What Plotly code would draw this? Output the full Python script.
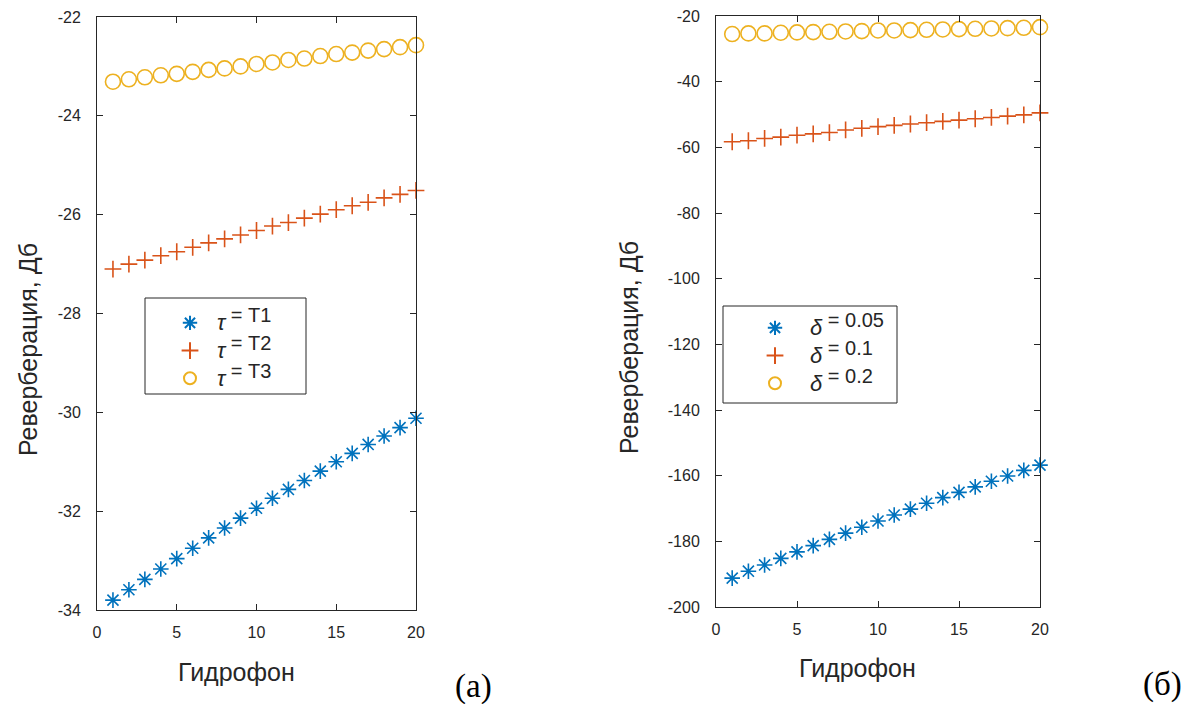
import plotly.graph_objects as go

hydro = list(range(1, 21))

# Panel (a): tau series
tau_T1 = [-33.80, -33.59, -33.38, -33.17, -32.96, -32.75, -32.54, -32.34, -32.14, -31.94,
          -31.74, -31.56, -31.38, -31.19, -31.00, -30.83, -30.65, -30.48, -30.31, -30.12]
tau_T2 = [-27.10, -27.00, -26.92, -26.83, -26.75, -26.66, -26.57, -26.49, -26.41, -26.32,
          -26.23, -26.16, -26.07, -25.99, -25.90, -25.82, -25.75, -25.66, -25.59, -25.51]
tau_T3 = [-23.31, -23.26, -23.22, -23.18, -23.15, -23.11, -23.07, -23.04, -23.00, -22.95,
          -22.92, -22.87, -22.84, -22.79, -22.75, -22.72, -22.68, -22.65, -22.61, -22.57]

# Panel (б): delta series
d_005 = [-191.2, -189.1, -187.2, -185.2, -183.2, -181.3, -179.4, -177.5, -175.7, -173.8,
         -172.0, -170.2, -168.4, -166.7, -165.1, -163.4, -161.7, -160.1, -158.4, -156.8]
d_01 = [-58.3, -58.0, -57.3, -56.9, -56.3, -55.9, -55.5, -54.7, -54.2, -53.7,
        -53.3, -52.9, -52.5, -52.1, -51.7, -51.3, -50.9, -50.5, -50.1, -49.5]
d_02 = [-25.5, -25.3, -25.3, -25.1, -25.0, -24.9, -24.8, -24.7, -24.6, -24.4,
        -24.4, -24.3, -24.2, -24.1, -24.0, -23.9, -23.8, -23.7, -23.6, -23.4]

x_ticks = [0, 5, 10, 15, 20]
x_ticklabels = ["0", "5", "10", "15", "20"]
ya_ticks = [-34, -32, -30, -28, -26, -24, -22]
ya_ticklabels = ["-34", "-32", "-30", "-28", "-26", "-24", "-22"]
yb_ticks = [-200, -180, -160, -140, -120, -100, -80, -60, -40, -20]
yb_ticklabels = ["-200", "-180", "-160", "-140", "-120", "-100", "-80", "-60", "-40", "-20"]

left_labels = ["T1", "T2", "T3"]
right_labels = ["0.05", "0.1", "0.2"]

SYM = "<span style='font-size:22px'><i>{}</i></span>"
SUP = "<sup><span style='font-size:20px'> = {}</span></sup>"
left_names = [SYM.format("τ") + SUP.format(t) for t in left_labels]
right_names = [SYM.format("δ") + SUP.format(t) for t in right_labels]

BLUE, ORANGE, YELLOW = "#0072BD", "#D95319", "#EDB120"
styles = [
    dict(symbol="asterisk-open", size=13, color=BLUE, line=dict(color=BLUE, width=1.6)),
    dict(symbol="cross-thin-open", size=12, color=ORANGE, line=dict(color=ORANGE, width=1.6)),
    dict(symbol="circle-open", size=15, color=YELLOW, line=dict(color=YELLOW, width=1.6)),
]

fig = go.Figure()
for ys, name, st in zip([tau_T1, tau_T2, tau_T3], left_names, styles):
    fig.add_trace(go.Scatter(x=hydro, y=ys, mode="markers", name=name, marker=st,
                             xaxis="x", yaxis="y", legend="legend", cliponaxis=False))
for ys, name, st in zip([d_005, d_01, d_02], right_names, styles):
    fig.add_trace(go.Scatter(x=hydro, y=ys, mode="markers", name=name, marker=st,
                             xaxis="x2", yaxis="y2", legend="legend2", cliponaxis=False))

W, H = 1197, 704
AX = "#262626"
FONT = "Liberation Sans, Arial, sans-serif"
tickfont = dict(family=FONT, size=16, color=AX)
common = dict(showline=True, linecolor=AX, linewidth=1, mirror="ticks", ticks="inside",
              ticklen=6, tickcolor=AX, tickwidth=1, showgrid=False, zeroline=False,
              tickfont=tickfont, automargin=False)

def px(x):
    return x / W

def py(y):
    return 1 - y / H

legend_common = dict(bgcolor="rgba(0,0,0,0)", borderwidth=0,
                     font=dict(family=FONT, size=19, color=AX),
                     itemsizing="constant", tracegroupgap=0,
                     xanchor="left", yanchor="top")

fig.update_layout(
    width=W, height=H, margin=dict(l=0, r=0, t=0, b=0, autoexpand=False),
    paper_bgcolor="white", plot_bgcolor="white",
    showlegend=True,
    xaxis=dict(domain=[px(97), px(416)], range=[0, 20], tickvals=x_ticks, ticktext=x_ticklabels,
               anchor="y", ticklabelstandoff=8, **common),
    yaxis=dict(domain=[py(610), py(17)], range=[-34, -22],
               tickvals=ya_ticks, ticktext=ya_ticklabels, anchor="x",
               ticklabelstandoff=12, **common),
    xaxis2=dict(domain=[px(716), px(1040)], range=[0, 20], tickvals=x_ticks, ticktext=x_ticklabels,
                anchor="y2", ticklabelstandoff=8, **common),
    yaxis2=dict(domain=[py(607), py(16)], range=[-200, -20],
                tickvals=yb_ticks, ticktext=yb_ticklabels, anchor="x2",
                ticklabelstandoff=12, **common),
    legend=dict(x=px(163), y=py(304), itemwidth=44, **legend_common),
    legend2=dict(x=px(740), y=py(309), itemwidth=60, **legend_common),
)

# legend frames
for (x0, y0, x1, y1) in [(145, 298, 306, 394), (723, 306, 897, 403)]:
    fig.add_shape(type="rect", xref="paper", yref="paper",
                  x0=px(x0), x1=px(x1), y0=py(y1), y1=py(y0),
                  line=dict(color=AX, width=1), fillcolor="white", layer="above")

title_font = dict(family=FONT, size=25, color=AX)
serif_font = dict(family="Liberation Serif, Times New Roman, serif", size=33, color="black")
ann = [
    dict(text="Гидрофон", x=px(236), y=py(672), font=title_font),
    dict(text="Гидрофон", x=px(857), y=py(668), font=title_font),
    dict(text="Реверберация, Дб", x=px(28), y=py(350), textangle=-90, font=title_font),
    dict(text="Реверберация, Дб", x=px(629), y=py(348), textangle=-90, font=title_font),
    dict(text="(а)", x=px(473), y=py(686), font=serif_font),
    dict(text="(б)", x=px(1162), y=py(684), font=serif_font),
]
for a in ann:
    fig.add_annotation(xref="paper", yref="paper", showarrow=False,
                       xanchor="center", yanchor="middle", **a)

fig.write_html("out.html", config={"displayModeBar": False},
               post_script="document.body.style.margin='0';document.body.style.overflow='hidden';")
